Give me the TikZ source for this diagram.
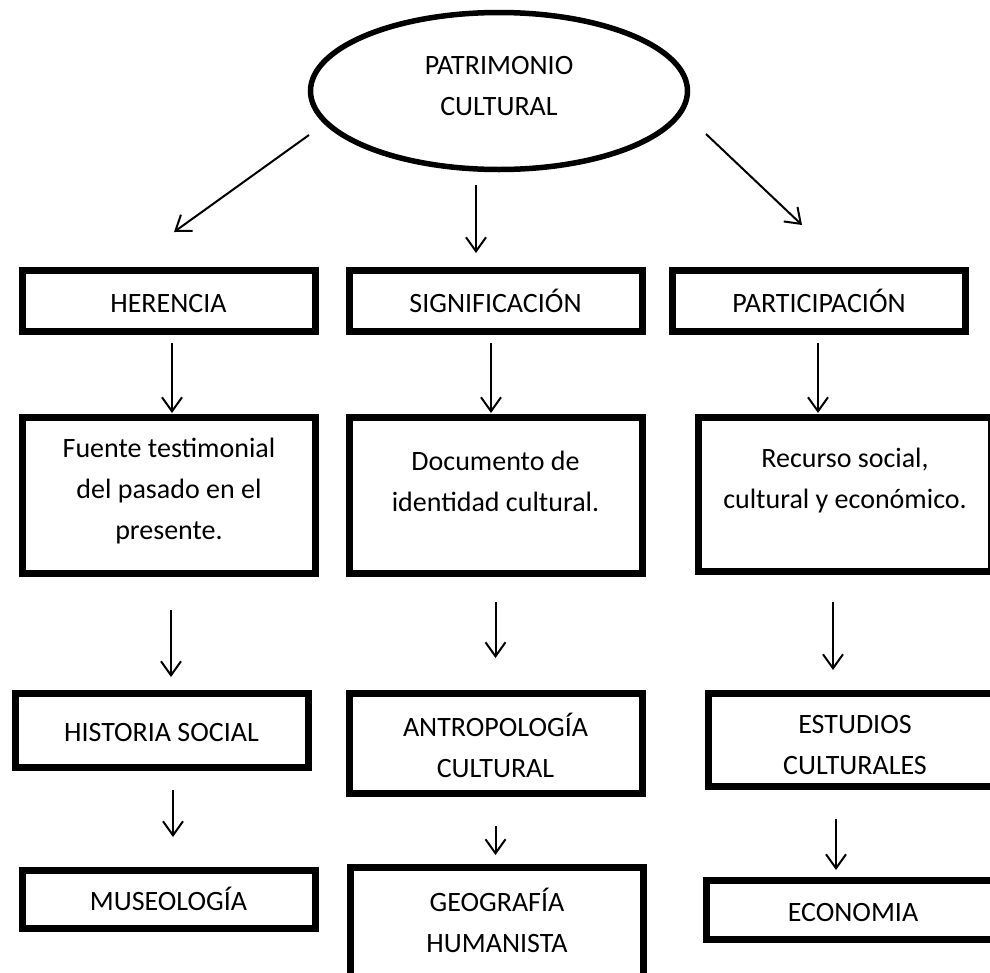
\documentclass[tikz,border=0pt]{standalone}
\usepackage{fontspec}
\setmainfont{Carlito}
\usetikzlibrary{shapes.geometric,arrows.meta}

\tikzset{
  box/.style={draw, line width=7pt, minimum width=293pt, inner sep=0pt, align=center,
    execute at begin node={\rule{0pt}{26pt}},
    execute at end node={\rule[-4pt]{0pt}{4pt}}},
  low/.style={text height=72pt},
  oval/.style={ellipse, draw, line width=5.5pt, minimum width=377pt,
    minimum height=157pt, inner sep=0pt, align=center,
    execute at end node={\rule[-10pt]{0pt}{10pt}}},
  txt/.style={align=center, inner sep=0pt},
  arr/.style={line width=2pt, -{Straight Barb[length=14pt,width=20pt,line width=2pt]}}
}

\begin{document}
\begin{tikzpicture}[x=1pt,y=-1pt,font=\fontsize{28}{41}\selectfont]
    \useasboundingbox (0,0) rectangle (990,972);

    \node[oval] (pc) at (499,91) {PATRIMONIO\\CULTURAL};

    \foreach \n/\x/\y/\h/\s/\t in {
        her/168.5/301/61//HERENCIA,
        sig/495.5/301/61//SIGNIFICACIÓN,
        par/819/301/61//PARTICIPACIÓN,
        his/161.5/730.5/74//HISTORIA SOCIAL,
        ant/495.5/743.5/100/low/{ANTROPOLOGÍA\\CULTURAL},
        est/855/740/93/low/{ESTUDIOS\\CULTURALES},
        mus/168.5/899.5/58//MUSEOLOGÍA,
        geo/497/922/109//{GEOGRAFÍA\\HUMANISTA},
        eco/853/910/59//ECONOMIA} {
        \node[box, \s, minimum height=\h pt] (\n) at (\x,\y) {\t};
    }

    % middle row, text sits high in the boxes
    \node[box, minimum height=156pt] (fue) at (169,495.5) {};
    \node[box, minimum height=156pt] (doc) at (495.5,495.5) {};
    \node[box, minimum height=154pt] (rec) at (845,494.5) {};
    \node[txt] (fuet) at (169,491) {Fuente testimonial\\del pasado en el\\presente.};
    \node[txt] (doct) at (495.5,481) {Documento de\\identidad cultural.};
    \node[txt] (rect) at (845,481) {Recurso social,\\cultural y económico.};

    \coordinate (l0) at (309,135); \coordinate (l1) at (174,232);
    \coordinate (m0) at (476,185); \coordinate (m1) at (476,253);
    \coordinate (r0) at (706,134); \coordinate (r1) at (802,225);
    \draw[arr] (l0) -- (l1);
    \draw[arr] (m0) -- (m1);
    \draw[arr] (r0) -- (r1);

    \draw[arr, shorten <=8pt, shorten >=1pt] ([xshift=3.5pt]her.south) -- ([xshift=3.5pt]her.south |- fue.north);
    \draw[arr, shorten <=8pt, shorten >=1pt] ([xshift=-4.5pt]sig.south) -- ([xshift=-4.5pt]sig.south |- doc.north);
    \draw[arr, shorten <=8pt, shorten >=1pt] ([xshift=-1pt]par.south) -- ([xshift=-1pt]par.south |- rec.north);

    \draw[arr, shorten <=33pt, shorten >=13pt] ([xshift=2pt]fue.south) -- ([xshift=2pt]fue.south |- his.north);
    \draw[arr, shorten <=25pt, shorten >=32pt] (doc.south) -- (doc.south |- ant.north);
    \draw[arr, shorten <=27pt, shorten >=20pt] ([xshift=-12pt]rec.south) -- ([xshift=-12pt]rec.south |- est.north);

    \draw[arr, shorten <=19pt, shorten >=30pt] ([xshift=11.5pt]his.south) -- ([xshift=11.5pt]his.south |- mus.north);
    \draw[arr, shorten <=29pt, shorten >=9pt] (ant.south) -- (ant.south |- geo.north);
    \draw[arr, shorten <=29pt, shorten >=7pt] ([xshift=-19pt]est.south) -- ([xshift=-19pt]est.south |- eco.north);
\end{tikzpicture}
\end{document}
